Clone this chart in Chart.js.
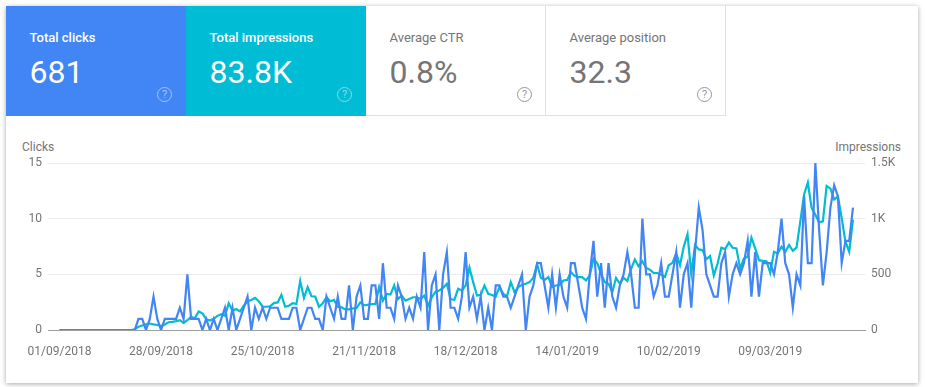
<!DOCTYPE html>
<html>
<head>
<meta charset="utf-8">
<title>Performance</title>
<script src="https://cdn.jsdelivr.net/npm/chart.js@4/dist/chart.umd.min.js"></script>
<style>
  html, body { margin: 0; padding: 0; background: #fff; }
  body { width: 925px; height: 387px; overflow: hidden; position: relative; font-family: Roboto, sans-serif; }
  #card { position: absolute; left: 6px; top: 6px; width: 912px; height: 377px; background: #fff; box-shadow: 0 1px 5px rgba(0,0,0,.35); }
  .tile { position: absolute; top: 0; width: 180px; height: 110px; box-sizing: border-box; color: #757575; }
  .tile.line { border-right: 1px solid #e0e0e0; border-bottom: 1px solid #e0e0e0; }
  .tile .name { position: absolute; left: 23.5px; top: 24px; font-size: 13px; line-height: 16px; }
  .tile .num { position: absolute; left: 23.5px; top: 46px; font-size: 32px; line-height: 40px; }
  .tile .help { position: absolute; left: 151px; top: 81px; width: 13px; height: 13px; border: 1.5px solid currentColor; border-radius: 50%; font-size: 11px; line-height: 13px; text-align: center; opacity: .75; }
  .on { color: #fff; }
  .on .name { font-weight: 500; }
  .on .help { opacity: .5; }
  .axt { position: absolute; top: 140px; font-size: 12px; line-height: 14px; color: #757575; }
  #wrap { position: absolute; left: 0; top: 121px; width: 925px; height: 250px; }
</style>
</head>
<body>
<div id="card">
  <div class="tile on" style="left:0;background:#4285f4"><div class="name">Total clicks</div><div class="num">681</div><div class="help">?</div></div>
  <div class="tile on" style="left:180px;background:#00bcd4"><div class="name">Total impressions</div><div class="num">83.8K</div><div class="help">?</div></div>
  <div class="tile line" style="left:360px"><div class="name">Average CTR</div><div class="num">0.8%</div><div class="help">?</div></div>
  <div class="tile line" style="left:540px"><div class="name">Average position</div><div class="num">32.3</div><div class="help">?</div></div>
</div>
<div class="axt" style="left:22px">Clicks</div>
<div class="axt" style="right:24px">Impressions</div>
<div id="wrap"><canvas id="perfChart"></canvas></div>
<script>
// one value per day, 01/09/2018 to 31/03/2019
const clicks = [
  0,0,0,0,0,0,0,0,0,0,0,0,0,0,0,0,0,0,0,0,0,
  1,1,0,1,3,1,0,1,1,1,1,2,1,5,1,1,1,0,1,0,1,0,1,2,0,2,0,1,2,3,0,
  2,1,2,1,2,2,2,1,1,1,2,2,0,1,2,2,1,1,0,3,2,1,3,1,1,4,0,3,4,1,1,4,
  4,1,6,2,2,1,4,3,1,2,1,3,2,7,0,4,5,0,5,7,2,2,1,3,7,2,3,1,3,0,2,0,
  4,4,3,3,2,3,4,5,0,3,4,6,6,4,2,5,2,5,3,2,6,6,4,2,1,5,8,3,6,2,6,3,
  2,4,5,7,5,2,2,10,5,5,3,4,6,3,3,5,7,2,5,6,2,7,11,9,5,4,3,3,6,7,3,5,
  6,5,6,8,3,7,3,6,6,6,5,7,10,6,5,2,5,4,12,6,6,15,9,4,7,11,13,12,6,8,8,11
];
const impressions = [
  0,0,0,0,0,0,0,0,0,0,0,0,0,0,0,0,0,0,0,0,5,
  30,40,50,58,50,45,36,50,70,73,80,88,64,88,118,106,167,150,97,85,100,127,142,127,240,173,188,167,218,258,270,
  288,258,209,209,212,242,248,315,209,218,240,233,440,288,385,303,300,209,240,294,258,270,209,203,185,185,194,197,248,221,227,233,
  233,385,264,324,318,400,278,309,264,279,294,294,279,309,218,294,345,355,379,415,279,270,370,355,400,560,430,309,315,400,325,315,
  300,385,325,303,430,340,385,406,415,430,470,590,470,450,475,385,400,405,445,450,520,485,475,475,445,490,640,600,506,430,415,340,
  467,415,470,440,550,633,573,618,558,542,512,512,497,476,582,603,688,582,748,860,506,763,724,718,636,664,490,597,739,727,785,739,
  733,552,642,658,830,733,627,621,618,515,703,688,748,703,764,712,742,976,1218,1324,1097,1036,967,976,1294,1270,1173,1197,1006,794,703,991
];
const dateTicks = ['01/09/2018', '28/09/2018', '25/10/2018', '21/11/2018', '18/12/2018', '14/01/2019', '10/02/2019', '09/03/2019'];
const clickTicks = [0, 5, 10, 15];
const impressionTicks = ['0', '500', '1K', '1.5K'];

const grey = '#757575';
const tickFont = { family: 'Roboto', size: 12 };

function daysToPoints(vals) {
  return vals.map((v, i) => ({ x: i, y: v }));
}

new Chart(document.getElementById('perfChart'), {
  type: 'line',
  data: {
    datasets: [
      { label: 'Clicks', data: daysToPoints(clicks), yAxisID: 'y', borderColor: '#4285f4', borderWidth: 2.2, pointRadius: 0, tension: 0 },
      { label: 'Impressions', data: daysToPoints(impressions), yAxisID: 'y1', borderColor: '#00bcd4', borderWidth: 2.2, pointRadius: 0, tension: 0 }
    ]
  },
  options: {
    responsive: true,
    maintainAspectRatio: false,
    animation: false,
    layout: { padding: { top: 42 } },
    plugins: { legend: { display: false }, tooltip: { enabled: false } },
    scales: {
      x: {
        type: 'linear',
        min: -3.06,
        max: 214.2,
        afterBuildTicks: scale => { scale.ticks = dateTicks.map((d, i) => ({ value: i * 27 })); },
        afterFit: scale => { scale.height = 41; },
        grid: { display: false, drawTicks: false },
        border: { color: '#9e9e9e', width: 1 },
        ticks: {
          autoSkip: false,
          maxRotation: 0,
          padding: 15,
          color: grey,
          font: tickFont,
          callback: v => dateTicks[v / 27]
        }
      },
      y: {
        position: 'left',
        min: 0,
        max: 15,
        afterBuildTicks: scale => { scale.ticks = clickTicks.map(v => ({ value: v })); },
        afterFit: scale => { scale.width = 48; },
        grid: { color: '#ebebeb', drawTicks: false },
        border: { display: false },
        ticks: { padding: 6, color: grey, font: tickFont }
      },
      y1: {
        position: 'right',
        min: 0,
        max: 1500,
        afterBuildTicks: scale => { scale.ticks = impressionTicks.map((t, i) => ({ value: i * 500 })); },
        afterFit: scale => { scale.width = 60; },
        grid: { drawOnChartArea: false, drawTicks: false },
        border: { display: false },
        ticks: { padding: 6, color: grey, font: tickFont, callback: v => impressionTicks[v / 500] }
      }
    }
  }
});
</script>
</body>
</html>
